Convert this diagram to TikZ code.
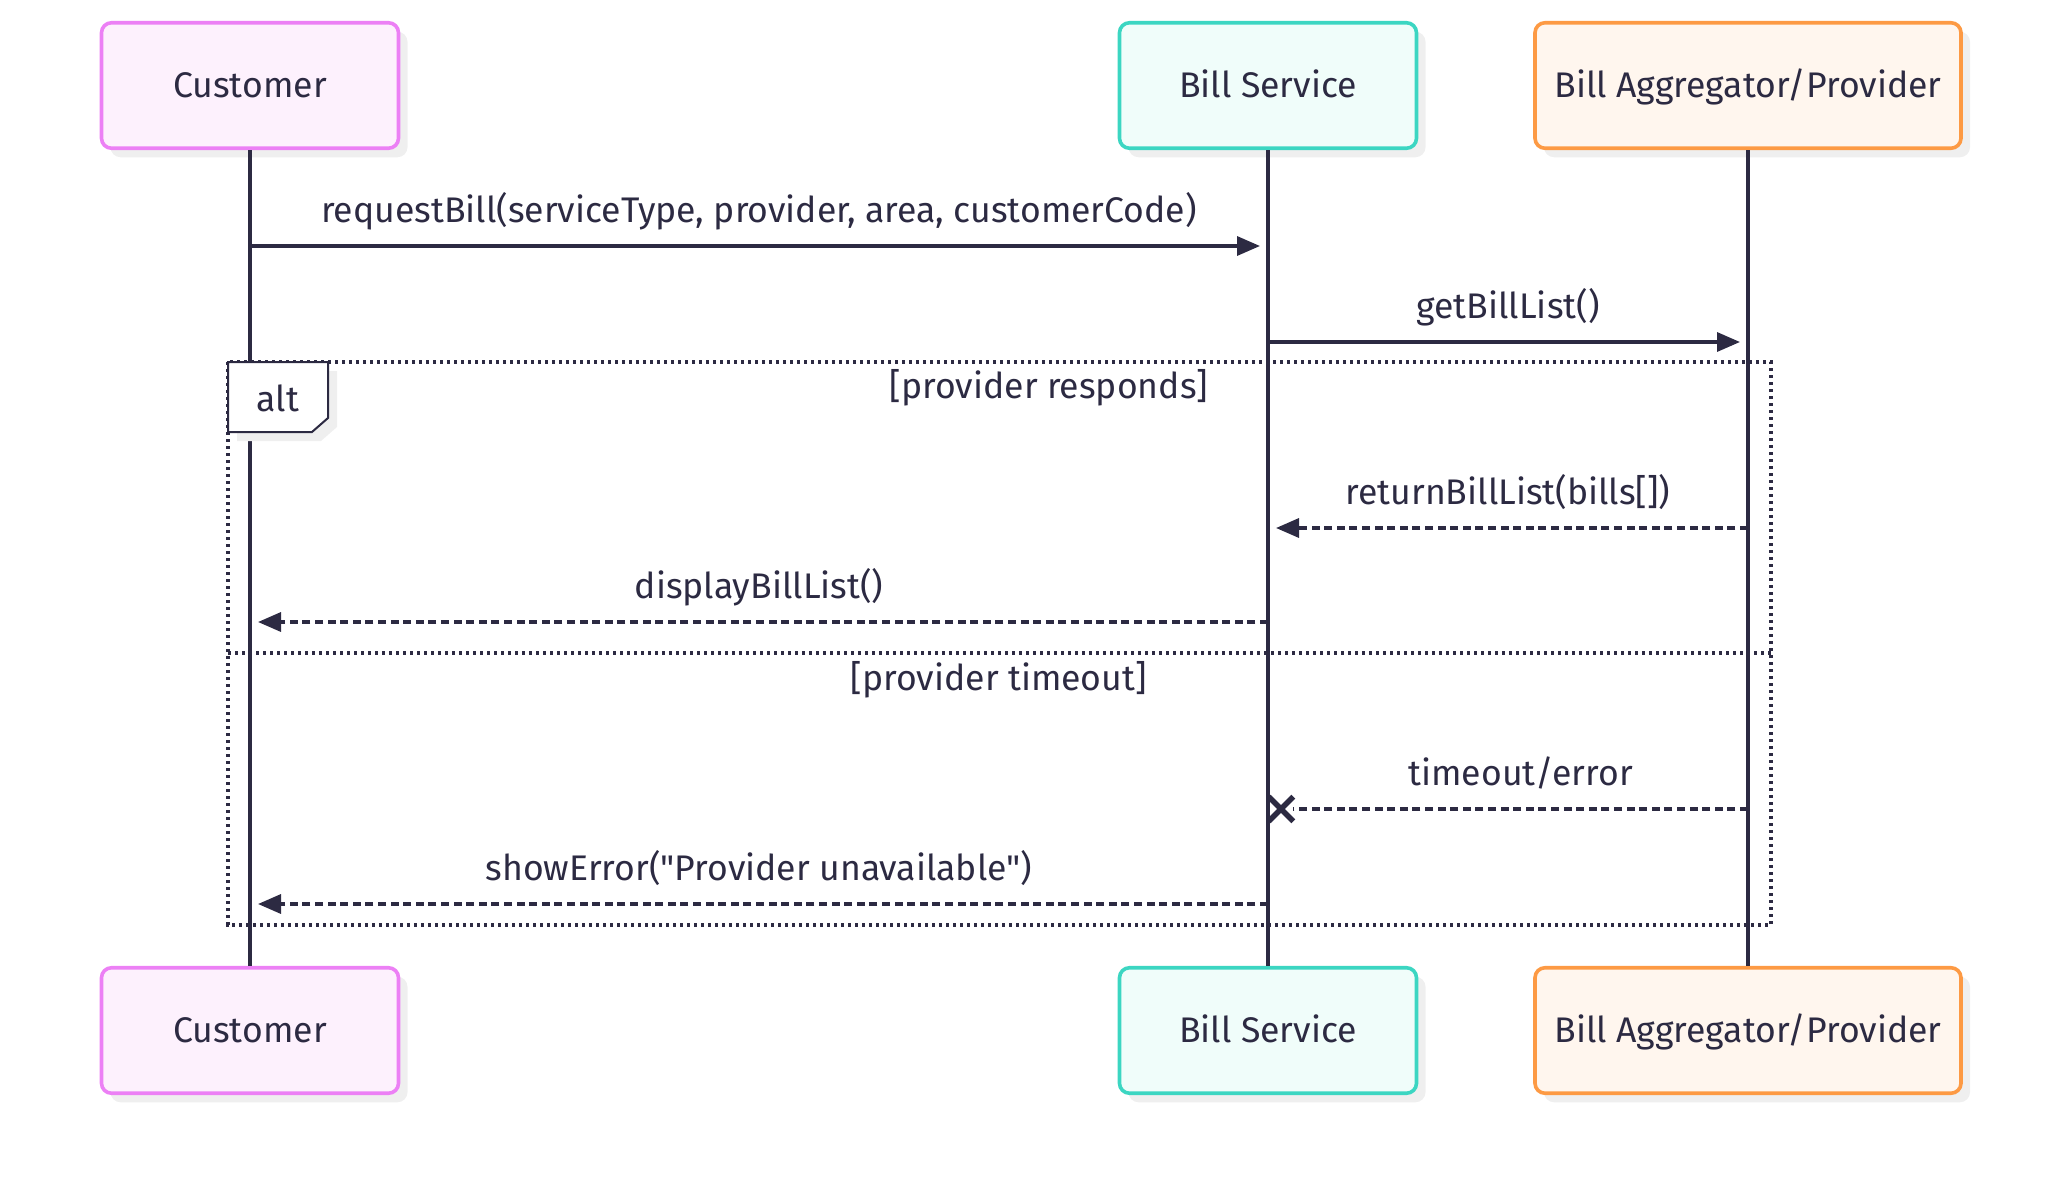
\documentclass[tikz,border=0pt]{standalone}
\usepackage{fontspec}
\setmainfont{Fira Sans}
\usepackage{tikz}
\usetikzlibrary{arrows.meta,positioning,shapes.misc,shadows}

\definecolor{ink}{HTML}{2C2A42}
\definecolor{shade}{HTML}{EFEFEF}
\definecolor{custline}{HTML}{EC80F5}
\definecolor{custfill}{HTML}{FDF1FD}
\definecolor{svcline}{HTML}{3CD6C2}
\definecolor{svcfill}{HTML}{F0FDFA}
\definecolor{provline}{HTML}{FD9A44}
\definecolor{provfill}{HTML}{FFF6EE}

\tikzset{
  actor/.style={rounded corners=5pt, line width=1.8pt, minimum width=148.5pt,
    minimum height=62.75pt, inner sep=0pt, text=ink, text height=12.3pt, text depth=0pt,
    font=\fontsize{17.8}{21}\selectfont,
    drop shadow={shadow xshift=4.5pt, shadow yshift=-4.5pt, fill=shade, opacity=1}},
  life/.style={draw=ink, line width=2pt},
  msg/.style={draw=ink, line width=1.7pt, -{Triangle[length=11.5pt,width=9.5pt]}, shorten >=4pt},
  reply/.style={msg, dash pattern=on 4pt off 2.3pt},
  lost/.style={draw=ink, line width=1.7pt, dash pattern=on 4pt off 2.3pt},
  msglbl/.style={above=8.2pt, inner sep=0pt, text depth=0.25em, text height=0.75em,
    text=ink, font=\fontsize{17.8}{21}\selectfont},
  lbl/.style={anchor=base, inner sep=0pt, text=ink, font=\fontsize{17.8}{21}\selectfont},
  frame/.style={draw=ink, line width=1.7pt, dash pattern=on 1.7pt off 1.8pt},
  tab/.style={draw=ink, line width=1pt, fill=white,
    drop shadow={shadow xshift=4.5pt, shadow yshift=-4.5pt, fill=shade, opacity=1}},
  xmark/.style={cross out, draw=ink, line width=2.8pt, minimum size=9.5pt, inner sep=0pt}
}

\begin{document}
\begin{tikzpicture}[x=0.5pt, y=-0.5pt]
  \useasboundingbox (0,0) rectangle (2063,1178);

  % participants, top and bottom
  \node[actor, draw=custline, fill=custfill] (cust) at (250,85.5) {Customer};
  \node[actor, draw=svcline, fill=svcfill] (svc) at (1268,85.5) {Bill Service};
  \node[actor, draw=provline, fill=provfill, minimum width=213pt] (prov) at (1748,85.5) {Bill Aggregator/Provider};
  \node[actor, draw=custline, fill=custfill] (cust2) at (250,1030.5) {Customer};
  \node[actor, draw=svcline, fill=svcfill] (svc2) at (1268,1030.5) {Bill Service};
  \node[actor, draw=provline, fill=provfill, minimum width=213pt] (prov2) at (1748,1030.5) {Bill Aggregator/Provider};

  \draw[life] (cust) -- (cust2);
  \draw[life] (svc) -- (svc2);
  \draw[life] (prov) -- (prov2);

  % message rows on the lifelines
  \foreach \lane/\xx in {cust/250, svc/1268, prov/1748}
    \foreach \row/\yy in {a/246, b/342, c/528, d/622, e/809, f/904}
      \coordinate (\lane\row) at (\xx,\yy);

  % alt frame
  \coordinate (altnw) at (228,362);
  \coordinate (altse) at (1771,925);
  \coordinate (altw) at (228,653);
  \coordinate (alte) at (1771,653);
  \draw[frame] (altnw) rectangle (altse);
  \draw[frame] (altw) -- (alte);
  \draw[tab] (altnw) -- ++(100,0) -- ++(0,56) -- ++(-16,14) -- ++(-84,0) -- cycle;
  \node[lbl] (alttag) at (278,411) {alt};
  \node[lbl] (guard1) at (1049,398) {[provider responds]};
  \node[lbl] (guard2) at (999,690) {[provider timeout]};

  \draw[msg] (custa) -- node[msglbl] {requestBill(serviceType, provider, area, customerCode)} (svca);
  \draw[msg] (svcb) -- node[msglbl] {getBillList()} (provb);
  \draw[reply] (provc) -- node[msglbl] {returnBillList(bills[])} (svcc);
  \draw[reply] (svcd) -- node[msglbl] {displayBillList()} (custd);
  \node[xmark] (xerr) at (1281,809) {};
  \draw[lost] (prove) -- node[msglbl] {timeout/error} (xerr);
  \draw[reply] (svcf) -- node[msglbl] {showError(\textquotedbl Provider unavailable\textquotedbl)} (custf);
\end{tikzpicture}
\end{document}
